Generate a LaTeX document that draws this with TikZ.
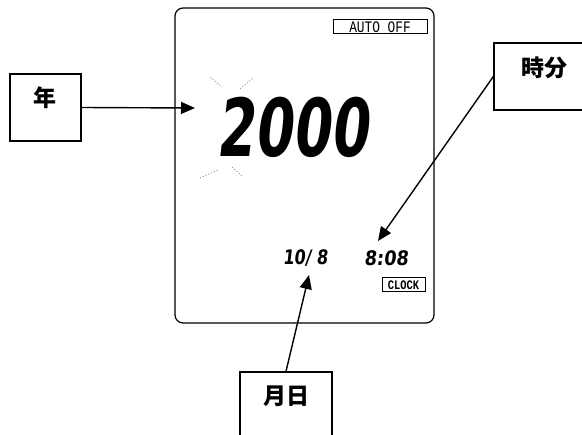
\documentclass[tikz,border=0pt]{standalone}
\usepackage{fontspec}
\newfontfamily\jpfont{Noto Sans CJK JP}
\newfontfamily\lcdfont{DejaVu Sans}
\newfontfamily\tagfont{Liberation Mono}
\usetikzlibrary{arrows.meta}
\tikzset{
  labelbox/.style={draw, line width=1.3pt, inner sep=0pt, font=\jpfont\bfseries\fontsize{23}{23}\selectfont},
  pointer/.style={line width=1.4pt, -{Triangle[length=14pt,width=12pt]}},
  tagbox/.style={draw, line width=1pt, inner sep=0pt, font=\tagfont},
  lcd/.style={inner sep=0pt, xslant=0.12},
  sparkle/.style={draw=black!40, line width=0.8pt, dash pattern=on 1.2pt off 1.8pt}
}
\begin{document}
\begin{tikzpicture}[x=1pt,y=-1pt]
\clip (0,0) rectangle (582,435);
\fill[white] (0,0) rectangle (582,435);
% LCD panel
\draw[line width=1.2pt, rounded corners=8pt] (175,8) rectangle (434,323);
% tags
\node[tagbox, minimum width=94pt, minimum height=14pt] (autooff) at (380,27) {\fontsize{16}{16}\selectfont\scalebox{0.8}[1]{AUTO OFF}};
\node[tagbox, minimum width=43pt, minimum height=14pt] (clock) at (403.5,285) {\bfseries\fontsize{13}{13}\selectfont\scalebox{0.8}[1]{CLOCK}};
% readings
\node[lcd, font=\lcdfont\bfseries\fontsize{80}{80}\selectfont, xscale=0.68] (year) at (296,127) {2000};
\node[lcd, font=\lcdfont\bfseries\fontsize{20}{20}\selectfont, xscale=0.8] (date) at (306,258) {10/ 8};
\node[lcd, font=\lcdfont\bfseries\fontsize{20}{20}\selectfont, xscale=0.88] (time) at (387,258) {8:08};
% blink marks
\draw[sparkle] (210,77) -- (222,87);
\draw[sparkle] (240,89) -- (253,78);
\draw[sparkle] (200,178) -- (218,170);
\draw[sparkle] (232,167) -- (242,176);
% labels
\node[labelbox, minimum width=71pt, minimum height=67pt, text height=16pt, text depth=18pt] (nen) at (45.5,107.5) {年};
\node[labelbox, minimum width=100pt, minimum height=67pt, text height=16pt, text depth=15pt] (jifun) at (544,76.5) {時分};
\node[labelbox, minimum width=92pt, minimum height=73pt, text height=14pt, text depth=21pt] (gappi) at (286,408.5) {月日};
% pointer tips
\coordinate (yeartip) at (195,108);
\coordinate (timetip) at (378,241);
\coordinate (datetip) at (309,275);
% connectors
\draw[pointer] (nen.east) -- (yeartip);
\draw[pointer] (jifun.west) -- (timetip);
\draw[pointer] (gappi.north) -- (datetip);
\end{tikzpicture}
\end{document}
